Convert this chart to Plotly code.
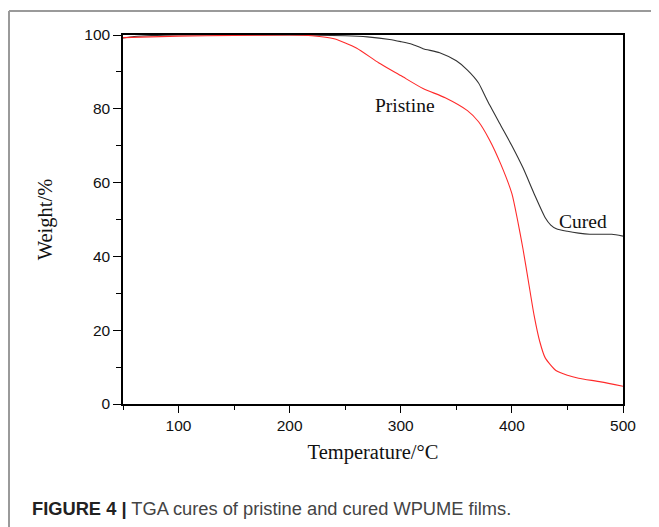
import plotly.graph_objects as go

# Data
cured_T = [50, 60, 80, 100, 150, 200, 250, 270, 290, 300, 310, 320, 335, 350, 360, 370, 375,
           380, 390, 400, 410, 420, 430, 435, 440, 450, 460, 470, 480, 490, 500]
cured_W = [99.2, 99.6, 99.9, 100, 100, 100, 99.8, 99.5, 98.8, 98.2, 97.5, 96.3, 95.2, 93.0,
           90.5, 87.0, 84.0, 81.0, 75.5, 70.0, 64.0, 57.0, 50.5, 48.5, 47.5, 46.8, 46.3, 46.0,
           46.0, 46.0, 45.5]

pristine_T = [50, 100, 150, 200, 220, 240, 260, 280, 300, 320, 340, 360, 370, 380, 390, 400,
              405, 410, 415, 420, 425, 430, 440, 450, 460, 480, 500]
pristine_W = [99.3, 99.7, 99.9, 100, 99.8, 99.0, 96.5, 92.5, 89.0, 85.5, 83.0, 79.5, 76.5,
              71.5, 65.0, 57.0, 50.0, 42.0, 33.0, 24.0, 17.0, 12.5, 9.0, 7.8, 7.0, 6.0, 4.8]

x_ticks = [100, 200, 300, 400, 500]
y_ticks = [0, 20, 40, 60, 80, 100]

labels = [("Pristine", 304, 81), ("Cured", 464, 49.5)]

caption_bold = "FIGURE 4 |"
caption_text = " TGA cures of pristine and cured WPUME films."

fig = go.Figure()
fig.add_trace(go.Scatter(x=cured_T, y=cured_W, mode="lines", name="Cured",
                         line=dict(color="#333333", width=1.1, shape="spline", smoothing=0.6)))
fig.add_trace(go.Scatter(x=pristine_T, y=pristine_W, mode="lines", name="Pristine",
                         line=dict(color="#ff2a2a", width=1.1, shape="spline", smoothing=0.6)))

# page body has an 8px margin; figure is sized so page coordinates line up
OFF = 8
L, R, T, B = 123 - OFF, 36, 35 - OFF, 123
W, H = 659 - OFF, 527 - OFF
pw, ph = W - L - R, H - T - B

def px(xp):  # page x -> paper
    return (xp - OFF - L) / pw

def py(yp):  # page y -> paper
    return (H - B - (yp - OFF)) / ph

for text, tx, ty in labels:
    fig.add_annotation(x=tx, y=ty, xref="x", yref="y", text=text, showarrow=False,
                       font=dict(family="Liberation Serif", size=19.5, color="#111111"))

fig.add_annotation(x=px(30), y=py(508), xref="paper", yref="paper", xanchor="left",
                   yanchor="middle", showarrow=False,
                   text=f"<b>{caption_bold}</b><span style='color:#444444'>{caption_text}</span>",
                   font=dict(family="Liberation Sans", size=18.3, color="#222222"))

# outer open frame (left and top)
frame = dict(color="#9a9a9a", width=2)
fig.add_shape(type="line", xref="paper", yref="paper", x0=px(9), x1=px(9), y0=py(11), y1=py(530),
              line=frame)
fig.add_shape(type="line", xref="paper", yref="paper", x0=px(9), x1=px(662), y0=py(11), y1=py(11),
              line=frame)

axis_common = dict(showgrid=False, zeroline=False, showline=True, linecolor="black",
                   linewidth=1.5, mirror=True, ticks="outside", tickcolor="black",
                   tickwidth=1.3, tickfont=dict(family="Liberation Sans", size=15.5, color="#111111"))

fig.update_xaxes(range=[50, 500], tickvals=x_ticks, ticklen=7,
                 minor=dict(dtick=50, tick0=0, ticks="outside", ticklen=4, tickcolor="black"),
                 title=dict(text="Temperature/°C", standoff=11,
                            font=dict(family="Liberation Serif", size=20.5, color="#111111")),
                 **axis_common)
fig.update_yaxes(range=[0, 100], tickvals=y_ticks, ticklen=8,
                 minor=dict(dtick=10, tick0=0, ticks="outside", ticklen=5, tickcolor="black"),
                 title=dict(text="Weight/%", standoff=26,
                            font=dict(family="Liberation Serif", size=20.5, color="#111111")),
                 **axis_common)

fig.update_layout(width=W, height=H, margin=dict(l=L, r=R, t=T, b=B),
                  paper_bgcolor="white", plot_bgcolor="white", showlegend=False)

fig.write_html("out.html")
